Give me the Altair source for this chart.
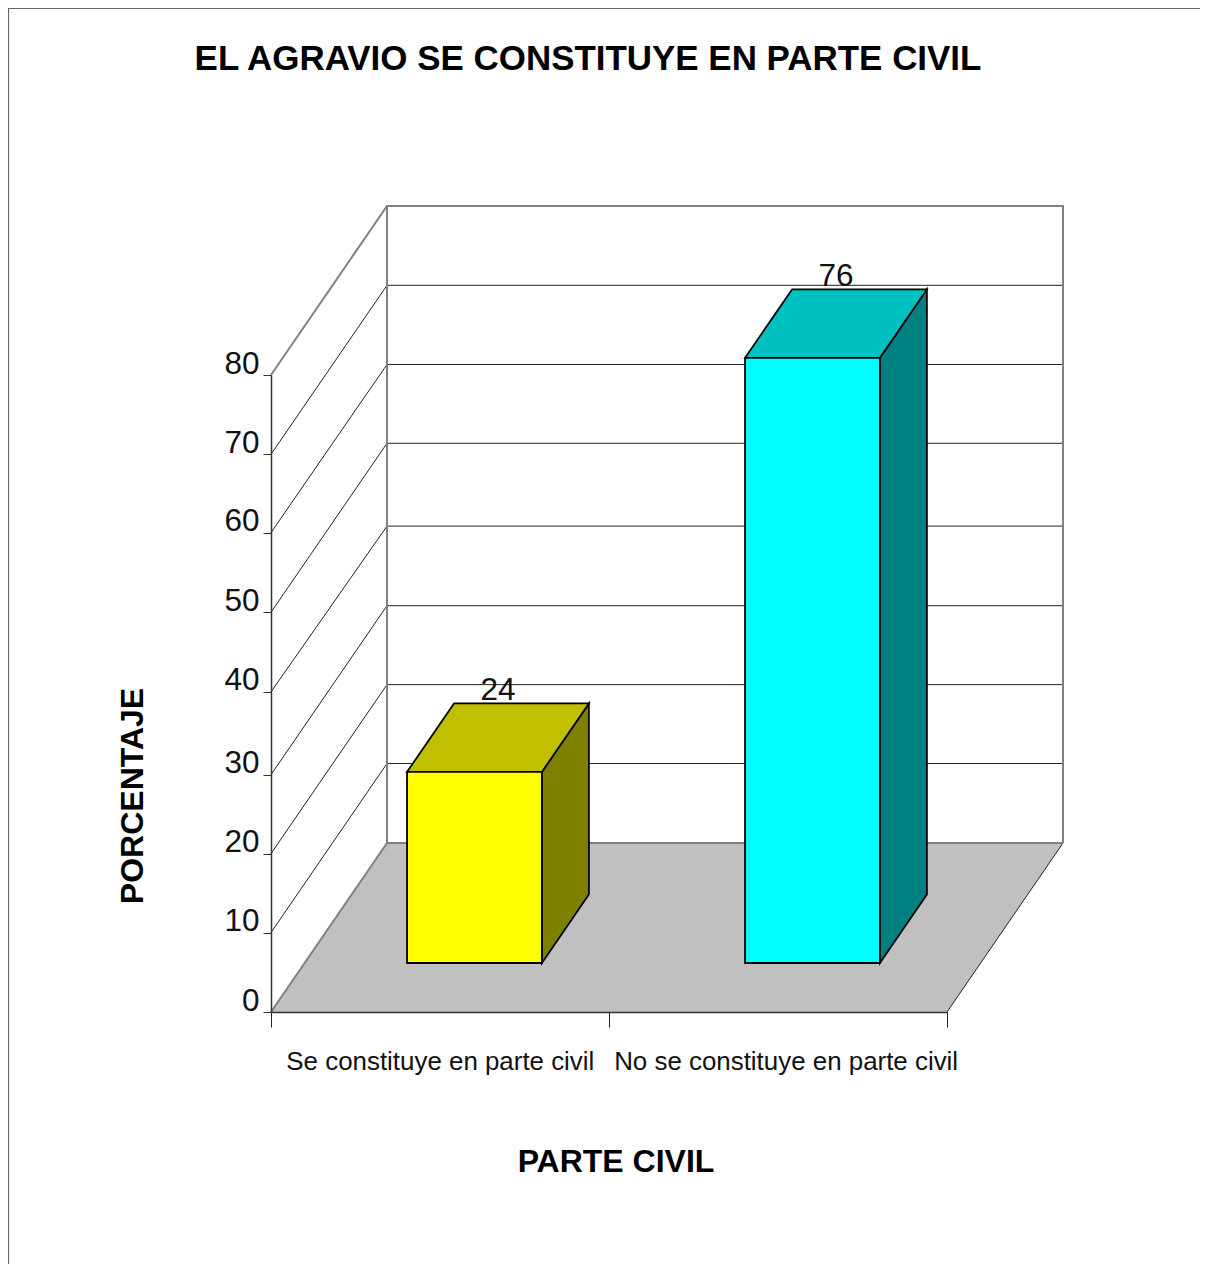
import altair as alt
import pandas as pd

# ---- chart values ----
CATEGORIES = ["Se constituye en parte civil", "No se constituye en parte civil"]
VALUES = [24, 76]
FRONT_COLORS = ["#FFFF00", "#00FFFF"]
TOP_COLORS = ["#C0C000", "#00C0C0"]
SIDE_COLORS = ["#808000", "#008080"]
# tick positions (value units) on the front wall edge and on the back wall
FRONT_TICKS = [0, 9.98, 19.89, 29.8, 40.2, 50.2, 60.2, 70.04, 80]
BACK_TICKS = [9.98, 19.89, 29.8, 39.8, 50.2, 60.1, 70.04, 80]

TITLE = "EL AGRAVIO SE CONSTITUYE EN PARTE CIVIL"
X_TITLE = "PARTE CIVIL"
Y_TITLE = "PORCENTAJE"
LABEL_X = [0.501, 1.524]

# ---- oblique projection, in data units ----
PLOT_W, PLOT_H = 676, 637
DEPTH_X = 116 / 338          # category units per full depth
DEPTH_Y = 169 / (PLOT_H / 80)  # value units per full depth
Z0, Z1 = 0.29, 0.695         # front and back of the bars
BAR_L, BAR_R = 0.303, 0.702  # inside each category slot
FONT = "Liberation Sans"

xs = alt.Scale(domain=[0, 2], nice=False, zero=False)
ys = alt.Scale(domain=[0, 80], nice=False, zero=False)


def X(f="x", **kw):
    return alt.X(f"{f}:Q", scale=xs, axis=None, stack=None, **kw)


def Y(f="y", **kw):
    return alt.Y(f"{f}:Q", scale=ys, axis=None, stack=None, **kw)


# back wall frame and grid
frame = pd.DataFrame({
    "x": [DEPTH_X, DEPTH_X, 2 + DEPTH_X, 2 + DEPTH_X],
    "y": [DEPTH_Y, 80 + DEPTH_Y, 80 + DEPTH_Y, DEPTH_Y],
    "o": [1, 2, 3, 4],
})
frame2 = pd.DataFrame({"x": [0, DEPTH_X], "y": [80, 80 + DEPTH_Y], "o": [0, 1]})
grid_back = pd.DataFrame({
    "x": [DEPTH_X] * len(BACK_TICKS[:-1]), "x2": [2 + DEPTH_X] * len(BACK_TICKS[:-1]),
    "y": [v + DEPTH_Y for v in BACK_TICKS[:-1]],
})
side_rows = []
for i, (f, b) in enumerate(zip(FRONT_TICKS[1:-1], BACK_TICKS[:-1])):
    side_rows += [{"id": i, "o": 0, "x": 0, "y": f},
                  {"id": i, "o": 1, "x": DEPTH_X, "y": b + DEPTH_Y}]
grid_side = pd.DataFrame(side_rows)

# floor
floor = pd.DataFrame({"y": [0, DEPTH_Y], "x": [0, DEPTH_X], "x2": [2, 2 + DEPTH_X], "c": ["#C0C0C0"] * 2})
floor_left = pd.DataFrame({"x": [0, DEPTH_X], "y": [0, DEPTH_Y], "o": [0, 1]})
floor_right = pd.DataFrame({"x": [2, 2 + DEPTH_X], "y": [0, DEPTH_Y], "o": [0, 1]})
floor_back = pd.DataFrame({"x": [DEPTH_X], "x2": [2 + DEPTH_X], "y": [DEPTH_Y]})

# bar faces, from VALUES
front, top, side, labels = [], [], [], []
for i, v in enumerate(VALUES):
    l = i + BAR_L + Z0 * DEPTH_X
    r = i + BAR_R + Z0 * DEPTH_X
    dx = (Z1 - Z0) * DEPTH_X
    base = Z0 * DEPTH_Y
    dy = (Z1 - Z0) * DEPTH_Y
    front.append({"x": l, "x2": r, "y": base, "y2": base + v, "c": FRONT_COLORS[i]})
    top += [{"y": base + v, "x": l, "x2": r, "c": TOP_COLORS[i]},
            {"y": base + v + dy, "x": l + dx, "x2": r + dx, "c": TOP_COLORS[i]}]
    side += [{"x": r, "y": base, "y2": base + v, "c": SIDE_COLORS[i]},
             {"x": r + dx, "y": base + dy, "y2": base + dy + v, "c": SIDE_COLORS[i]}]
    labels.append({"x": (l + r) / 2 + dx / 2, "y": base + dy + v, "t": str(v)})

fill = alt.Color("c:N", scale=None, legend=None)
GRAY = "#808080"

axes = alt.Chart(pd.DataFrame({"x": [0.0], "y": [0.0]})).mark_point(opacity=0).encode(
    x=alt.X("x:Q", scale=xs, axis=alt.Axis(
        values=[0, 1, 2], labels=False, grid=False, tickSize=15, tickColor="#222222",
        domainColor="#333333", domainWidth=1.5, zindex=1,
        title=X_TITLE, titleFont=FONT, titleFontSize=32, titleFontWeight="bold", titleColor="black",
        titleX=344.5, titleY=159.5, titleAlign="center", titleBaseline="alphabetic",
    )),
    y=alt.Y("y:Q", scale=ys, axis=alt.Axis(
        values=FRONT_TICKS, format="d", grid=False, tickSize=8, tickColor="#333333",
        domainColor="#333333", domainWidth=1.5, zindex=1,
        labelFont=FONT, labelFontSize=31.5, labelColor="#111111", labelPadding=4, labelOffset=-11,
        title=Y_TITLE, titleFont=FONT, titleFontSize=32, titleFontWeight="bold", titleColor="black",
        titleX=-139, titleY=420.5, titleAngle=270, titleAlign="center", titleBaseline="middle",
    )),
)

layers = [
    # page border (left and top only are visible in the reference)
    alt.Chart(pd.DataFrame({"a": [0]})).mark_rule(color="#666666", strokeWidth=1.2).encode(
        x=alt.value(-262.5), y=alt.value(-367), y2=alt.value(896)),
    alt.Chart(pd.DataFrame({"a": [0]})).mark_rule(color="#666666", strokeWidth=1.2).encode(
        y=alt.value(-366.5), x=alt.value(-263), x2=alt.value(929)),
    # back wall grid
    alt.Chart(grid_back).mark_rule(color="#222222", strokeWidth=1).encode(x=X(), x2="x2:Q", y=Y()),
    # diagonal lines of the side wall
    alt.Chart(grid_side).mark_line(color="#222222", strokeWidth=1).encode(
        x=X(), y=Y(), detail="id:N", order="o:Q"),
    # floor
    alt.Chart(floor).mark_area(orient="horizontal").encode(y=Y(), x=X(), x2="x2:Q", color=fill),
    alt.Chart(floor_right).mark_line(color="#222222", strokeWidth=1).encode(x=X(), y=Y(), order="o:Q"),
    # wall frame
    alt.Chart(floor_left).mark_line(color=GRAY, strokeWidth=2).encode(x=X(), y=Y(), order="o:Q"),
    alt.Chart(floor_back).mark_rule(color=GRAY, strokeWidth=2).encode(x=X(), x2="x2:Q", y=Y()),
    alt.Chart(frame).mark_line(color=GRAY, strokeWidth=2).encode(x=X(), y=Y(), order="o:Q"),
    alt.Chart(frame2).mark_line(color=GRAY, strokeWidth=2).encode(x=X(), y=Y(), order="o:Q"),
    # bars
    alt.Chart(pd.DataFrame(side)).mark_area(stroke="black", strokeWidth=1.8).encode(
        x=X(), y=Y(), y2="y2:Q", color=fill),
    alt.Chart(pd.DataFrame(top)).mark_area(orient="horizontal", stroke="black", strokeWidth=1.8).encode(
        y=Y(), x=X(), x2="x2:Q", color=fill),
    alt.Chart(pd.DataFrame(front)).mark_rect(stroke="black", strokeWidth=1.8).encode(
        x=X(), x2="x2:Q", y=Y(), y2="y2:Q", color=fill),
    # value labels
    alt.Chart(pd.DataFrame(labels)).mark_text(
        font=FONT, fontSize=31.5, color="#111111", baseline="alphabetic", align="center", dy=-3
    ).encode(x=X(), y=Y(), text="t:N"),
    # category labels
    alt.Chart(pd.DataFrame({"x": LABEL_X, "y": [0, 0], "t": CATEGORIES})).mark_text(
        font=FONT, fontSize=25.9, color="#111111", baseline="alphabetic", align="center", dy=58
    ).encode(x=X(), y=Y(), text="t:N"),
    axes,
]

chart = alt.layer(*layers).resolve_axis(x="independent", y="independent").properties(
    width=PLOT_W,
    height=PLOT_H,
    padding={"left": 263, "top": 367, "right": 253, "bottom": 252},
    autosize=alt.AutoSizeParams(type="none"),
    title=alt.TitleParams(
        TITLE, font=FONT, fontSize=34.95, fontWeight="bold", color="black",
        anchor="middle", dx=-21, dy=70, offset=0,
    ),
).configure_view(stroke=None)

chart.save("out.html", embed_options={"renderer": "svg", "actions": False})
